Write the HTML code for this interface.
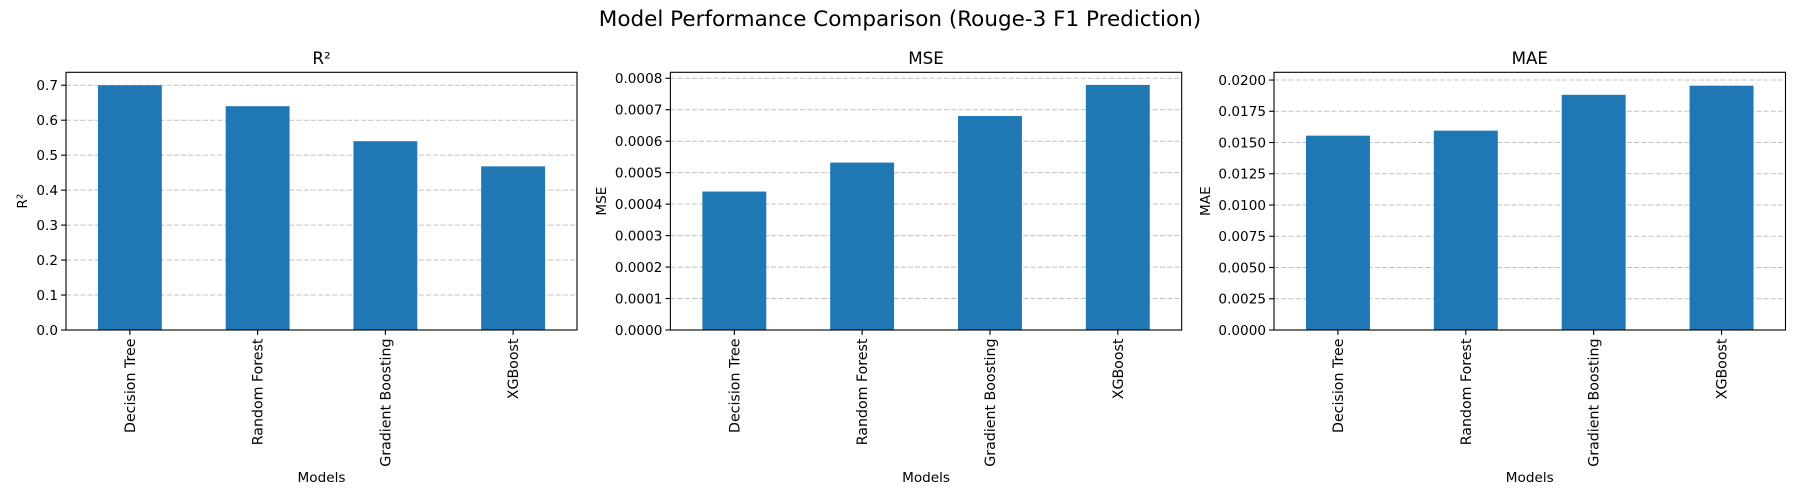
<!DOCTYPE html>
<html><head><meta charset="utf-8"><style>
html,body{margin:0;padding:0;background:#fff;}
svg{display:block;font-family:"DejaVu Sans","Liberation Sans",sans-serif;}
</style></head><body>
<svg id="chart" width="1800" height="500" viewBox="0 0 1800 500" xmlns="http://www.w3.org/2000/svg">
<text x="900" y="26" font-size="21.5" text-anchor="middle">Model Performance Comparison (Rouge-3 F1 Prediction)</text>
</svg>
<script>
const categories = ["Decision Tree", "Random Forest", "Gradient Boosting", "XGBoost"];
const r2Values = [0.700, 0.640, 0.540, 0.468];
const mseValues = [0.000440, 0.000532, 0.000680, 0.000779];
const maeValues = [0.01555, 0.01595, 0.01882, 0.01955];
const r2Ticks = ["0.0","0.1","0.2","0.3","0.4","0.5","0.6","0.7"];
const mseTicks = ["0.0000","0.0001","0.0002","0.0003","0.0004","0.0005","0.0006","0.0007","0.0008"];
const maeTicks = ["0.0000","0.0025","0.0050","0.0075","0.0100","0.0125","0.0150","0.0175","0.0200"];
const titles = ["R²", "MSE", "MAE"];

const NS = "http://www.w3.org/2000/svg";
const svg = document.getElementById("chart");
function mk(tag, attrs, parent) {
  const e = document.createElementNS(NS, tag);
  for (const k in attrs) e.setAttribute(k, attrs[k]);
  (parent || svg).appendChild(e);
  return e;
}
const TOP = 72.3, BOT = 330;
const panels = [
  {key:"r2", left:66, right:577, vals:r2Values, ticks:r2Ticks, ymax:0.737, ylabX:22},
  {key:"mse", left:670.4, right:1181.7, vals:mseValues, ticks:mseTicks, ymax:0.000819, ylabX:601},
  {key:"mae", left:1274, right:1785.5, vals:maeValues, ticks:maeTicks, ymax:0.02062, ylabX:1205}
];
panels.forEach((p, pi) => {
  const g = mk("g", {});
  
  
  const y = v => BOT - (v / p.ymax) * (BOT - TOP);
  const x = i => p.left + (i + 0.5) / 4 * (p.right - p.left);
  const bw = 0.5 / 4 * (p.right - p.left);
  p.ticks.forEach(t => {
    const v = parseFloat(t);
    const yy = y(v);
    const gl = mk("line", {x1:p.left, x2:p.right, y1:yy, y2:yy, stroke:"#b0b0b0", "stroke-opacity":"0.8", "stroke-width":"1", "stroke-dasharray":"5,2.2"}, g);
    
    
    mk("line", {x1:p.left-4.9, x2:p.left, y1:yy, y2:yy, stroke:"#000", "stroke-width":"1.1"}, g);
    const tl = mk("text", {x:p.left-8, y:yy+4.8, "font-size":"13.6", "text-anchor":"end"}, g);
    
    
    tl.textContent = t;
  });
  p.vals.forEach((v, i) => {
    const r = mk("rect", {x:x(i)-bw/2, y:y(v), width:bw, height:BOT-y(v), fill:"#1f77b4"}, g);
    
    
  });
  categories.forEach((c, i) => {
    mk("line", {x1:x(i), x2:x(i), y1:BOT, y2:BOT+4.9, stroke:"#000", "stroke-width":"1.1"}, g);
    const tl = mk("text", {x:0, y:0, "font-size":"14.2", "text-anchor":"end", transform:`translate(${x(i)+5},${BOT+8.5}) rotate(-90)`}, g);
    
    
    tl.textContent = c;
  });
  const fr = mk("rect", {x:p.left, y:TOP, width:p.right-p.left, height:BOT-TOP, fill:"none", stroke:"#000", "stroke-width":"1.1"}, g);
  
  
  const tt = mk("text", {x:(p.left+p.right)/2, y:64, "font-size":"16.7", "text-anchor":"middle"}, g);
  
  
  tt.textContent = titles[pi];
  const xl = mk("text", {x:(p.left+p.right)/2, y:482, "font-size":"13.6", "text-anchor":"middle"}, g);
  
  
  xl.textContent = "Models";
  const yl = mk("text", {x:0, y:0, "font-size":"13.6", "text-anchor":"middle", transform:`translate(${p.ylabX+5},${(TOP+BOT)/2}) rotate(-90)`}, g);
  
  
  yl.textContent = titles[pi];
});
</script>
</body></html>
